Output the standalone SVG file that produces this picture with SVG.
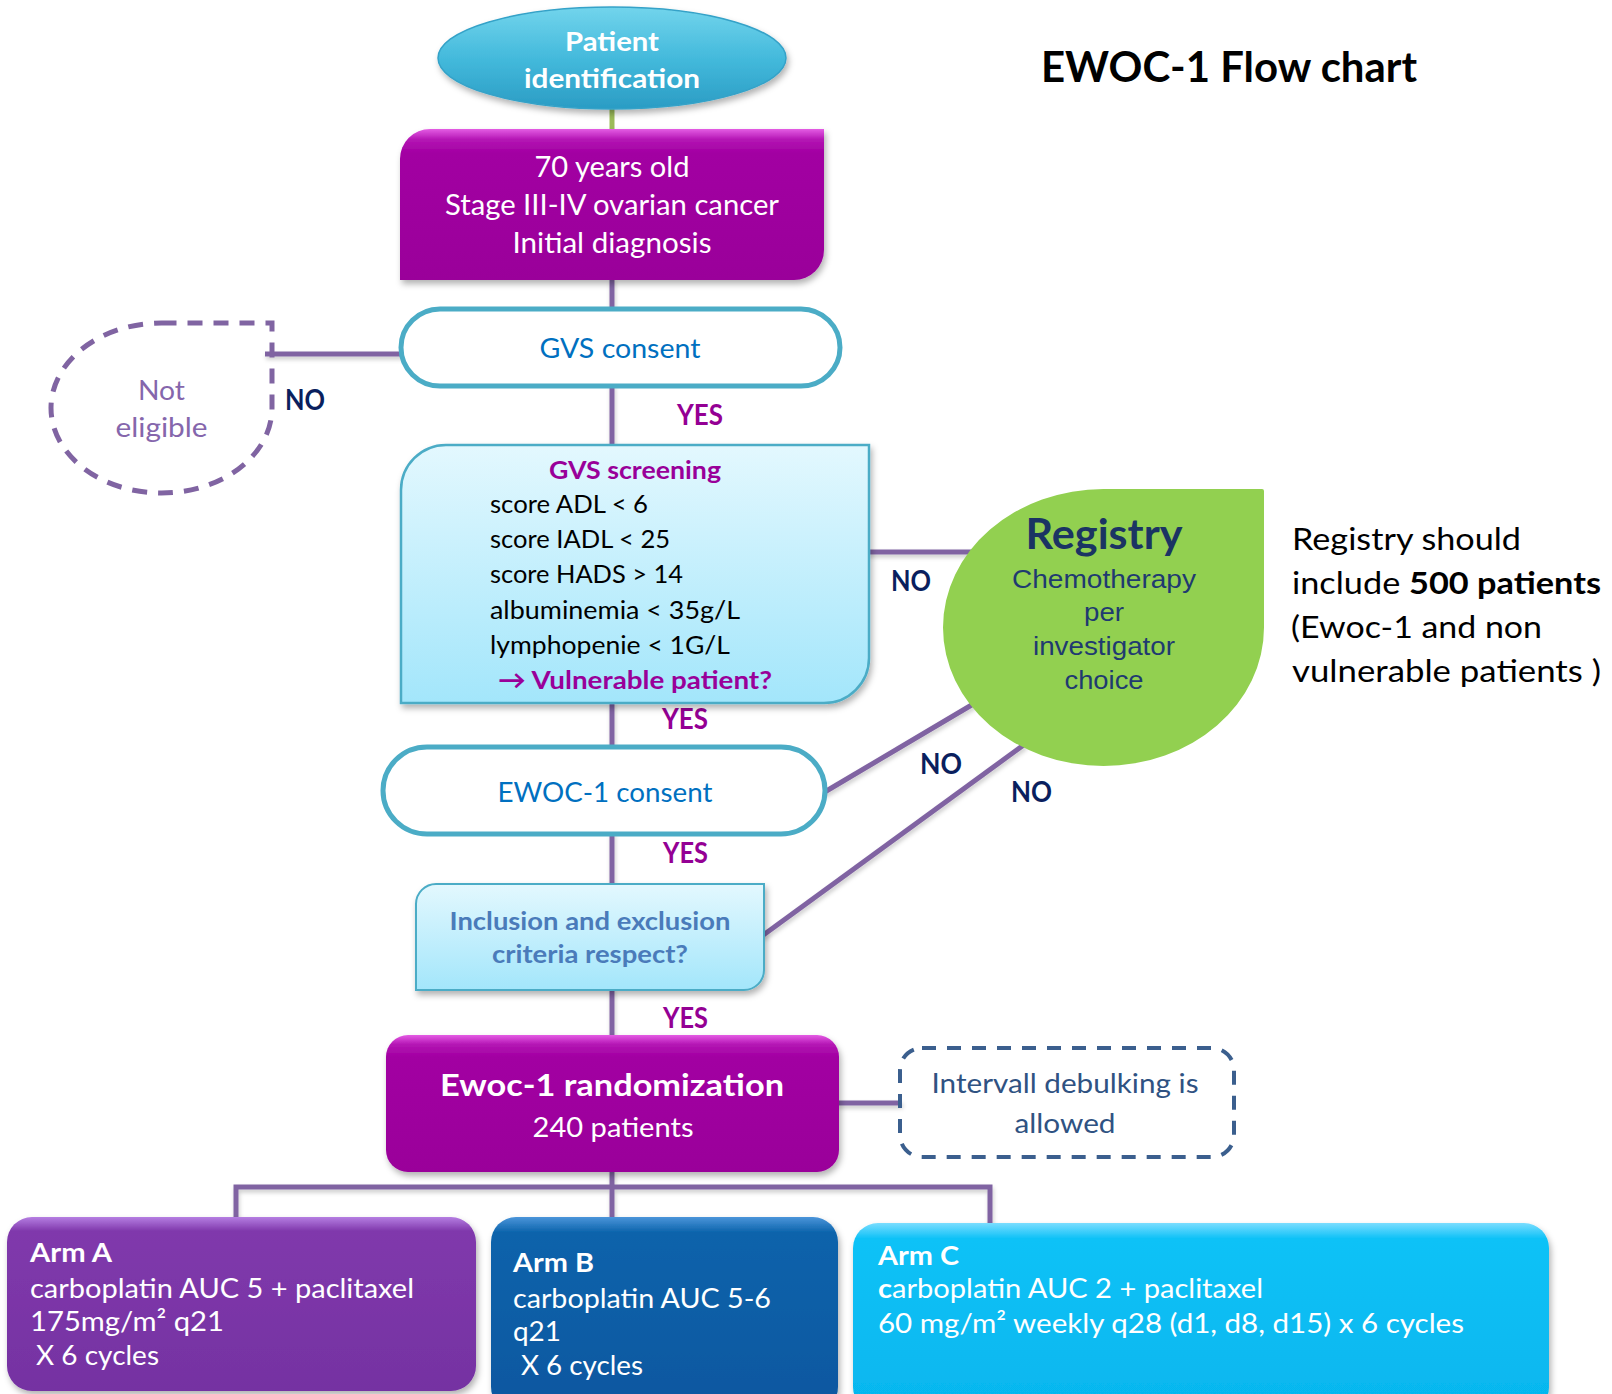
<svg xmlns="http://www.w3.org/2000/svg" width="1612" height="1394" viewBox="0 0 1612 1394">
<defs>
  <filter id="sh" x="-10%" y="-10%" width="125%" height="130%">
    <feDropShadow dx="2" dy="4" stdDeviation="3" flood-color="#000" flood-opacity="0.3"/>
  </filter>
  <filter id="lsh" x="-5%" y="-20%" width="110%" height="160%">
    <feDropShadow dx="1" dy="3" stdDeviation="2" flood-color="#000" flood-opacity="0.2"/>
  </filter>
  <linearGradient id="gPat" x1="0" y1="0" x2="0" y2="1">
    <stop offset="0" stop-color="#72D4EC"/>
    <stop offset="0.5" stop-color="#44BADC"/>
    <stop offset="1" stop-color="#2A9CC4"/>
  </linearGradient>
  <linearGradient id="gMag" x1="0" y1="0" x2="0" y2="1">
    <stop offset="0" stop-color="#E45CE4"/>
    <stop offset="0.07" stop-color="#B415B4"/>
    <stop offset="0.16" stop-color="#A200A2"/>
    <stop offset="1" stop-color="#9A009A"/>
  </linearGradient>
  <linearGradient id="gCyan" x1="0" y1="0" x2="0" y2="1">
    <stop offset="0" stop-color="#E3F8FE"/>
    <stop offset="1" stop-color="#A3E6FB"/>
  </linearGradient>
  <linearGradient id="gA" x1="0" y1="0" x2="0" y2="1">
    <stop offset="0" stop-color="#B57EE2"/>
    <stop offset="0.08" stop-color="#8039AC"/>
    <stop offset="1" stop-color="#7532A2"/>
  </linearGradient>
  <linearGradient id="gB" x1="0" y1="0" x2="0" y2="1">
    <stop offset="0" stop-color="#4A95DA"/>
    <stop offset="0.08" stop-color="#0C63AB"/>
    <stop offset="1" stop-color="#0957A0"/>
  </linearGradient>
  <linearGradient id="gC" x1="0" y1="0" x2="0" y2="1">
    <stop offset="0" stop-color="#7ADDFF"/>
    <stop offset="0.08" stop-color="#10C2F7"/>
    <stop offset="1" stop-color="#05B6EE"/>
  </linearGradient>
  <style>
    .t { font-family: Lato, "Open Sans", "Liberation Sans", sans-serif; }
    .b { font-weight: bold; }
    .w { fill: #FFFFFF; }
    .c { text-anchor: middle; }
    .arm { font-size: 27px; }
    .yes { font-family: Lato, "Liberation Sans", sans-serif; font-weight: bold; font-size: 28px; fill: #940094; }
    .no { font-family: Lato, "Liberation Sans", sans-serif; font-weight: bold; font-size: 28px; fill: #0A1F5E; }
    .con { fill: none; stroke: #8064A2; stroke-width: 5; }
    .reg { font-family: "Liberation Sans", Arial, sans-serif; font-size: 26px; fill: #1F3A70; text-anchor: middle; }
  </style>
</defs>

<g id="connectors">
  <line x1="612" y1="106" x2="612" y2="131" stroke="#9BBB59" stroke-width="5"/>
  <g filter="url(#lsh)">
    <line class="con" x1="612" y1="278" x2="612" y2="311"/>
    <line class="con" x1="612" y1="384" x2="612" y2="447"/>
    <line class="con" x1="612" y1="701" x2="612" y2="749"/>
    <line class="con" x1="612" y1="832" x2="612" y2="886"/>
    <line class="con" x1="612" y1="988" x2="612" y2="1037"/>
    <line class="con" x1="612" y1="1170" x2="612" y2="1219"/>
    <polyline class="con" points="236,1219 236,1187 990,1187 990,1225"/>
    <line class="con" x1="265" y1="354" x2="404" y2="354"/>
    <line class="con" x1="867" y1="552" x2="985" y2="552"/>
    <line class="con" x1="823" y1="793" x2="975" y2="703"/>
    <line class="con" x1="762" y1="936" x2="1025" y2="744"/>
    <line class="con" x1="837" y1="1103" x2="902" y2="1103"/>
  </g>
</g>

<text id="title" class="t b" x="1041" y="82" font-size="42" fill="#000" textLength="376" lengthAdjust="spacingAndGlyphs">EWOC-1 Flow chart</text>

<g id="patient-identification">
  <ellipse cx="612" cy="58" rx="174" ry="51" fill="url(#gPat)" stroke="#34A2C8" stroke-width="1.5" filter="url(#sh)"/>
  <text class="t b w c" x="612" y="51" font-size="27" textLength="94" lengthAdjust="spacingAndGlyphs">Patient</text>
  <text class="t b w c" x="612" y="88" font-size="27" textLength="176" lengthAdjust="spacingAndGlyphs">identification</text>
</g>

<g id="criteria-box">
  <path d="M430,129 H824 V250 A30,30 0 0 1 794,280 H400 V159 A30,30 0 0 1 430,129 Z" fill="url(#gMag)" filter="url(#sh)"/>
  <text class="t w c" x="612" y="177" font-size="28" textLength="155" lengthAdjust="spacingAndGlyphs">70 years old</text>
  <text class="t w c" x="612" y="215" font-size="28" textLength="334" lengthAdjust="spacingAndGlyphs">Stage III-IV ovarian cancer</text>
  <text class="t w c" x="612" y="253" font-size="28" textLength="199" lengthAdjust="spacingAndGlyphs">Initial diagnosis</text>
</g>

<g id="gvs-consent">
  <rect x="401" y="309" width="439" height="77" rx="39" ry="38.5" fill="#FFFFFF" stroke="#4BACC6" stroke-width="5"/>
  <text class="t c" x="620" y="358" font-size="27" fill="#0070C0" textLength="161" lengthAdjust="spacingAndGlyphs">GVS consent</text>
</g>

<g id="not-eligible">
  <path d="M161.5,323 L272,323 L272,408 A110.5,85 0 0 1 161.5,493 A110.5,85 0 0 1 51,408 A110.5,85 0 0 1 161.5,323 Z" fill="none" stroke="#8064A2" stroke-width="5" stroke-dasharray="15 11"/>
  <text class="t c" x="161.5" y="400" font-size="26" fill="#8566AC" textLength="47" lengthAdjust="spacingAndGlyphs">Not</text>
  <text class="t c" x="161.5" y="437" font-size="26" fill="#8566AC" textLength="92" lengthAdjust="spacingAndGlyphs">eligible</text>
</g>

<g id="labels">
  <text class="no" x="285" y="410" textLength="40" lengthAdjust="spacingAndGlyphs">NO</text>
  <text class="yes" x="677" y="425" textLength="46" lengthAdjust="spacingAndGlyphs">YES</text>
  <text class="yes" x="662" y="729" textLength="46" lengthAdjust="spacingAndGlyphs">YES</text>
  <text class="yes" x="663" y="863" textLength="45" lengthAdjust="spacingAndGlyphs">YES</text>
  <text class="yes" x="663" y="1028" textLength="45" lengthAdjust="spacingAndGlyphs">YES</text>
  <text class="no" x="891" y="591" textLength="40" lengthAdjust="spacingAndGlyphs">NO</text>
  <text class="no" x="920" y="774" textLength="42" lengthAdjust="spacingAndGlyphs">NO</text>
  <text class="no" x="1011" y="802" textLength="41" lengthAdjust="spacingAndGlyphs">NO</text>
</g>

<g id="gvs-screening">
  <path d="M446,445 H869 V658 A45,45 0 0 1 824,703 H401 V490 A45,45 0 0 1 446,445 Z" fill="url(#gCyan)" stroke="#4BACC6" stroke-width="2.5" filter="url(#sh)"/>
  <text class="t b c" x="635" y="479" font-size="25" fill="#990099" textLength="172" lengthAdjust="spacingAndGlyphs">GVS screening</text>
  <text class="t" x="490" y="513" font-size="25.5" fill="#000" textLength="158" lengthAdjust="spacingAndGlyphs">score ADL &lt; 6</text>
  <text class="t" x="490" y="548" font-size="25.5" fill="#000" textLength="180" lengthAdjust="spacingAndGlyphs">score IADL &lt; 25</text>
  <text class="t" x="490" y="583" font-size="25.5" fill="#000" textLength="193" lengthAdjust="spacingAndGlyphs">score HADS &gt; 14</text>
  <text class="t" x="490" y="619" font-size="25.5" fill="#000" textLength="250" lengthAdjust="spacingAndGlyphs">albuminemia &lt; 35g/L</text>
  <text class="t" x="490" y="654" font-size="25.5" fill="#000" textLength="240" lengthAdjust="spacingAndGlyphs">lymphopenie &lt; 1G/L</text>
  <text class="t b" x="498" y="689" font-size="25.5" fill="#990099" textLength="274" lengthAdjust="spacingAndGlyphs">→ Vulnerable patient?</text>
</g>

<g id="registry">
  <path d="M1103.5,489 L1262,489 Q1264,489 1264,491 L1264,627.5 A160.5,138.5 0 0 1 1103.5,766 A160.5,138.5 0 0 1 943,627.5 A160.5,138.5 0 0 1 1103.5,489 Z" fill="#92D050"/>
  <text class="t b c" x="1104" y="549" font-size="42" fill="#1B3463" textLength="157" lengthAdjust="spacingAndGlyphs">Registry</text>
  <text class="reg" x="1104" y="588" textLength="184" lengthAdjust="spacingAndGlyphs">Chemotherapy</text>
  <text class="reg" x="1104" y="621" textLength="40" lengthAdjust="spacingAndGlyphs">per</text>
  <text class="reg" x="1104" y="655" textLength="142" lengthAdjust="spacingAndGlyphs">investigator</text>
  <text class="reg" x="1104" y="689" textLength="79" lengthAdjust="spacingAndGlyphs">choice</text>
</g>

<g id="registry-note">
  <text class="t" x="1292" y="550" font-size="30" fill="#000" textLength="229" lengthAdjust="spacingAndGlyphs">Registry should</text>
  <text class="t" x="1292" y="594" font-size="30" fill="#000" textLength="309" lengthAdjust="spacingAndGlyphs">include <tspan font-weight="bold">500 patients</tspan></text>
  <text class="t" x="1291" y="638" font-size="30" fill="#000" textLength="251" lengthAdjust="spacingAndGlyphs">(Ewoc-1 and non</text>
  <text class="t" x="1292" y="682" font-size="30" fill="#000" textLength="309" lengthAdjust="spacingAndGlyphs">vulnerable patients )</text>
</g>

<g id="ewoc-consent">
  <rect x="383" y="747" width="442" height="87" rx="44" ry="43.5" fill="#FFFFFF" stroke="#4BACC6" stroke-width="5"/>
  <text class="t c" x="605" y="802" font-size="27" fill="#0070C0" textLength="215" lengthAdjust="spacingAndGlyphs">EWOC-1 consent</text>
</g>

<g id="inclusion">
  <path d="M436,884 H764 V970 A20,20 0 0 1 744,990 H416 V904 A20,20 0 0 1 436,884 Z" fill="url(#gCyan)" stroke="#4BACC6" stroke-width="2" filter="url(#sh)"/>
  <text class="t b c" x="590" y="930" font-size="25.5" fill="#4A7BBA" textLength="281" lengthAdjust="spacingAndGlyphs">Inclusion and exclusion</text>
  <text class="t b c" x="590" y="963" font-size="25.5" fill="#4A7BBA" textLength="196" lengthAdjust="spacingAndGlyphs">criteria respect?</text>
</g>

<g id="randomization">
  <rect x="386" y="1035" width="453" height="137" rx="22" fill="url(#gMag)" filter="url(#sh)"/>
  <text class="t b w c" x="612" y="1096" font-size="30" textLength="344" lengthAdjust="spacingAndGlyphs">Ewoc-1 randomization</text>
  <text class="t w c" x="613" y="1137" font-size="27" textLength="161" lengthAdjust="spacingAndGlyphs">240 patients</text>
</g>

<g id="intervall">
  <rect x="900" y="1048" width="334" height="109" rx="22" fill="none" stroke="#3B5F8E" stroke-width="4" stroke-dasharray="14 11"/>
  <text class="t c" x="1065" y="1093" font-size="27" fill="#2F5282" textLength="267" lengthAdjust="spacingAndGlyphs">Intervall debulking is</text>
  <text class="t c" x="1065" y="1133" font-size="27" fill="#2F5282" textLength="101" lengthAdjust="spacingAndGlyphs">allowed</text>
</g>

<g id="arm-a">
  <rect x="7" y="1217" width="469" height="174" rx="25" fill="url(#gA)" filter="url(#sh)"/>
  <text class="t b w arm" x="30" y="1262" textLength="82" lengthAdjust="spacingAndGlyphs">Arm A</text>
  <text class="t w arm" x="30" y="1298" textLength="384" lengthAdjust="spacingAndGlyphs">carboplatin AUC 5 + paclitaxel</text>
  <text class="t w arm" x="30" y="1331" textLength="194" lengthAdjust="spacingAndGlyphs">175mg/m² q21</text>
  <text class="t w arm" x="36" y="1365" textLength="123" lengthAdjust="spacingAndGlyphs">X 6 cycles</text>
</g>

<g id="arm-b">
  <rect x="491" y="1217" width="347" height="195" rx="25" fill="url(#gB)" filter="url(#sh)"/>
  <text class="t b w arm" x="513" y="1272" textLength="81" lengthAdjust="spacingAndGlyphs">Arm B</text>
  <text class="t w arm" x="513" y="1308" textLength="258" lengthAdjust="spacingAndGlyphs">carboplatin AUC 5-6</text>
  <text class="t w arm" x="513" y="1341" textLength="48" lengthAdjust="spacingAndGlyphs">q21</text>
  <text class="t w arm" x="521" y="1375" textLength="122" lengthAdjust="spacingAndGlyphs">X 6 cycles</text>
</g>

<g id="arm-c">
  <rect x="853" y="1223" width="696" height="189" rx="25" fill="url(#gC)" filter="url(#sh)"/>
  <text class="t b w arm" x="878" y="1265" textLength="81" lengthAdjust="spacingAndGlyphs">Arm C</text>
  <text class="t w arm" x="878" y="1298" textLength="385" lengthAdjust="spacingAndGlyphs"><tspan font-weight="bold">c</tspan>arboplatin AUC 2 + paclitaxel</text>
  <text class="t w arm" x="878" y="1333" textLength="586" lengthAdjust="spacingAndGlyphs">60 mg/m² weekly q28 (d1, d8, d15) x 6 cycles</text>
</g>
</svg>
